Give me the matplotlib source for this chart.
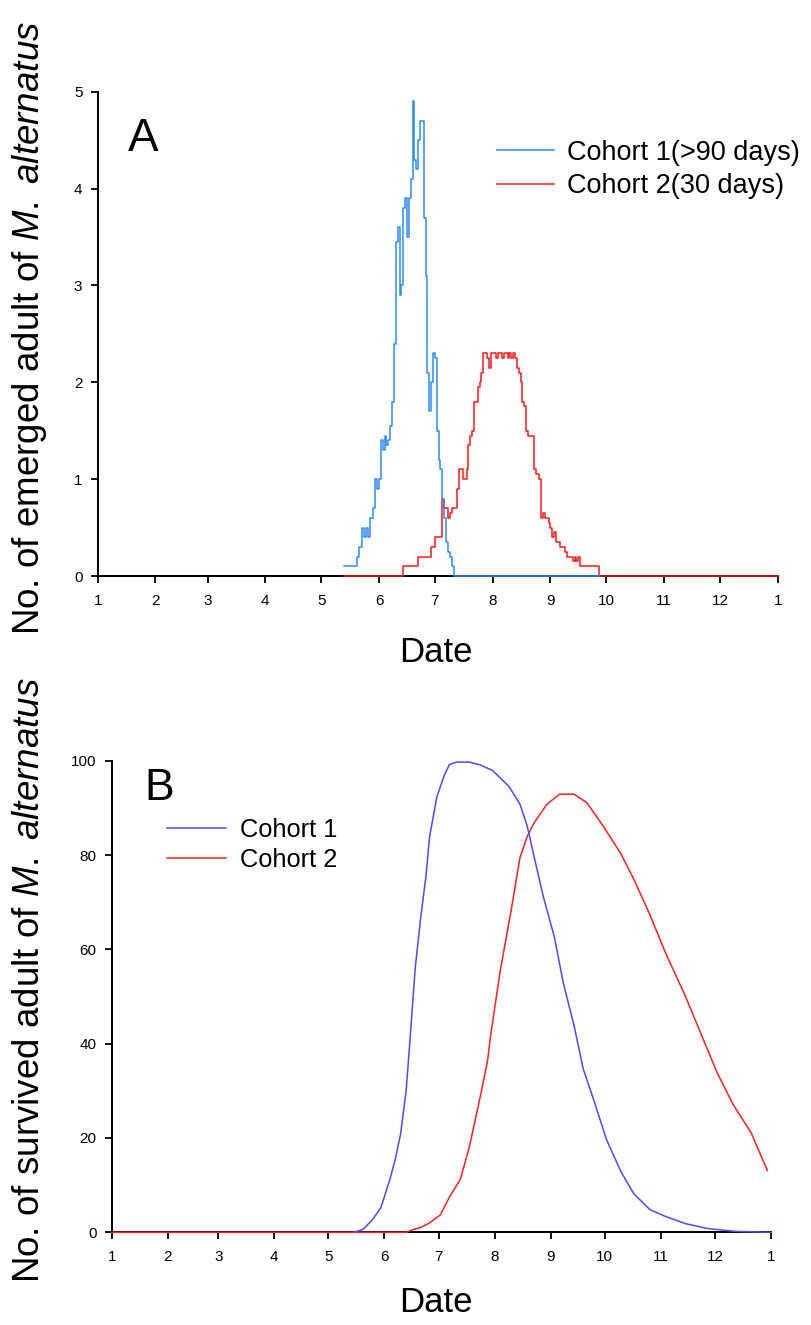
import matplotlib
matplotlib.use("Agg")
import matplotlib.pyplot as plt

plt.rcParams['font.family'] = ['Liberation Sans', 'DejaVu Sans']
plt.rcParams['mathtext.fontset'] = 'custom'
plt.rcParams['mathtext.rm'] = 'Liberation Sans'
plt.rcParams['mathtext.it'] = 'Liberation Sans:italic'

########### DATA ##############

# day of year at first day of each month, labels = month number
month_days = [0, 31, 59, 90, 120, 151, 181, 212, 243, 273, 304, 334, 365]
month_labels = ['1', '2', '3', '4', '5', '6', '7', '8', '9', '10', '11', '12', '1']

# A: emerged adults per day
c1_days = list(range(132, 192)) + [269]
c1_vals = [0.1, 0.1, 0.1, 0.1, 0.1, 0.1, 0.1,                  # 132-138
           0.2, 0.3, 0.3, 0.5, 0.4, 0.5, 0.4, 0.6, 0.6, 0.7,    # 139-148
           1.0, 0.9, 1.0, 1.4, 1.3, 1.45, 1.35, 1.4, 1.55, 1.8, # 149-158
           2.4, 3.45, 3.6, 2.9, 3.0, 3.8, 3.9, 3.5, 3.9, 4.1,   # 159-168
           4.9, 4.3, 4.2, 4.5, 4.7, 4.7, 3.7, 3.1, 2.1, 1.7,    # 169-178
           2.0, 2.3, 2.25, 1.5, 1.2, 1.1, 0.8, 0.6, 0.35, 0.25, # 179-188
           0.2, 0.1, 0.0,                                       # 189-191
           0.0]

c2_days = [132] + list(range(164, 270)) + [365]
c2_vals = [0.0,
           0.1, 0.1, 0.1, 0.1, 0.1, 0.1, 0.1, 0.1,              # 164-171
           0.2, 0.2, 0.2, 0.2, 0.2, 0.2, 0.2,                   # 172-178
           0.3, 0.3, 0.4, 0.4, 0.4, 0.4,                        # 179-184
           0.8, 0.7, 0.7, 0.6, 0.65, 0.7, 0.7, 0.7, 0.9, 1.1,   # 185-194
           1.1, 1.0, 1.0, 1.1, 1.35, 1.45, 1.5, 1.8, 1.8, 1.95, # 195-204
           2.0, 2.1, 2.3, 2.3, 2.25, 2.15, 2.3, 2.3, 2.3, 2.25, # 205-214
           2.3, 2.3, 2.25, 2.3, 2.3, 2.25, 2.3, 2.25, 2.3, 2.25,# 215-224
           2.15, 2.1, 2.0, 1.8, 1.75, 1.5, 1.45, 1.45, 1.45, 1.1, # 225-234
           1.05, 1.05, 1.0, 0.6, 0.65, 0.6, 0.6, 0.55, 0.5, 0.4, # 235-244
           0.45, 0.35, 0.35, 0.3, 0.3, 0.3, 0.25, 0.2, 0.2, 0.2, # 245-254
           0.15, 0.2, 0.15, 0.2, 0.1,                            # 255-259
           0.1, 0.1, 0.1, 0.1, 0.1, 0.1, 0.1, 0.1, 0.1,          # 260-268
           0.0,                                                 # 269
           0.0]

# B: surviving adults
s1_days = [134, 139, 144, 149, 154, 157, 160, 163, 165, 168, 171, 174, 176, 180, 184,
           187, 191, 198, 204, 211, 220, 226, 230, 234, 239, 245, 250, 256, 261,
           267, 274, 282, 289, 298, 307, 318, 330, 345, 365]
s1_vals = [0, 0.6, 2.5, 5.2, 11.2, 15.5, 21, 30, 40, 55.9, 66.5, 75.6, 83.9, 92.3, 96.8,
           99.2, 99.7, 99.7, 99.1, 97.9, 94.5, 90.8, 86.2, 79.4, 71.1, 62.7, 52.9, 43.8, 34.7,
           27.9, 19.6, 12.8, 8.2, 4.8, 3.3, 1.8, 0.8, 0.2, 0]

s2_days = [0, 163, 167, 171, 176, 182, 187, 193, 198, 204, 208, 210, 215, 221, 226,
           230, 234, 241, 248, 256, 263, 272, 282, 289, 298, 307, 317, 326, 335, 344,
           354, 363]
s2_vals = [0, 0, 0.6, 1.0, 2.0, 3.7, 7.5, 11.2, 18.1, 28.7, 36.2, 42.3, 55.2, 68, 79.4,
           83.9, 86.9, 90.8, 92.9, 92.9, 91.1, 86.2, 80.2, 74.9, 67.3, 58.9, 50.6, 42.3, 34,
           27.1, 21.1, 13.1]

########### PLOT ##############

W, H = 811, 1325
fig = plt.figure(figsize=(W / 100, H / 100), dpi=100)

def px_axes(x0, x1, y0, y1):
    # axes from pixel box (x0 left, x1 right, y0 top, y1 bottom)
    return fig.add_axes([x0 / W, 1 - y1 / H, (x1 - x0) / W, (y1 - y0) / H])

def style(ax):
    for s in ['top', 'right']:
        ax.spines[s].set_visible(False)
    for s in ['left', 'bottom']:
        ax.spines[s].set_linewidth(1.4)
    ax.set_xlim(0, 365)
    ax.set_xticks(month_days)
    ax.set_xticklabels(month_labels)
    ax.tick_params(axis='x', direction='out', length=5, width=1.3, pad=8, labelsize=11)
    ax.tick_params(axis='y', direction='out', length=5, width=1.3, pad=6, labelsize=11)

ax1 = px_axes(97.7, 777.7, 91.7, 576)
style(ax1)
ax1.step(c2_days, c2_vals, where='post', color='#ff1a1a', lw=1.1, label='Cohort 2(30 days)',
         zorder=3, clip_on=False)
ax1.step(c1_days, c1_vals, where='post', color='#2b8cff', lw=1.1, label='Cohort 1(>90 days)',
         zorder=4, clip_on=False)
ax1.set_ylim(0, 5)
ax1.set_yticks([0, 1, 2, 3, 4, 5])
h, l = ax1.get_legend_handles_labels()
ax1.legend(h[::-1], l[::-1], loc='center left', bbox_to_anchor=(0.587, 0.839), frameon=False,
           fontsize=19.5, handlelength=2.1, handletextpad=0.5, labelspacing=0.28,
           borderpad=0, borderaxespad=0)
ax1.text(0.045, 0.903, 'A', transform=ax1.transAxes, fontsize=33, ha='left', va='center')

ax2 = px_axes(111.7, 771, 760.7, 1232.3)
style(ax2)
ax2.plot(s2_days, s2_vals, color='#ff2020', lw=1.1, label='Cohort 2', zorder=3, clip_on=False)
ax2.plot(s1_days, s1_vals, color='#4b4bff', lw=1.1, label='Cohort 1', zorder=4, clip_on=False)
ax2.set_ylim(0, 100)
ax2.set_yticks([0, 20, 40, 60, 80, 100])
h, l = ax2.get_legend_handles_labels()
ax2.legend(h[::-1], l[::-1], loc='center left', bbox_to_anchor=(0.084, 0.821), frameon=False,
           fontsize=18.3, handlelength=2.3, handletextpad=0.55, labelspacing=0.22,
           borderpad=0, borderaxespad=0)
ax2.text(0.05, 0.942, 'B', transform=ax2.transAxes, fontsize=32, ha='left', va='center')

# axis titles
fig.text(30 / W, 1 - 328 / H, r'No. of emerged adult of $\it{M.\ alternatus}$',
         rotation=90, ha='center', va='center', fontsize=26.5)
fig.text(30 / W, 1 - 980 / H, r'No. of survived adult of $\it{M.\ alternatus}$',
         rotation=90, ha='center', va='center', fontsize=26.5)
fig.text(436 / W, 1 - 653 / H, 'Date', ha='center', va='center', fontsize=25)
fig.text(436 / W, 1 - 1303 / H, 'Date', ha='center', va='center', fontsize=25)

plt.savefig('out.png', dpi=100)
plt.close()
